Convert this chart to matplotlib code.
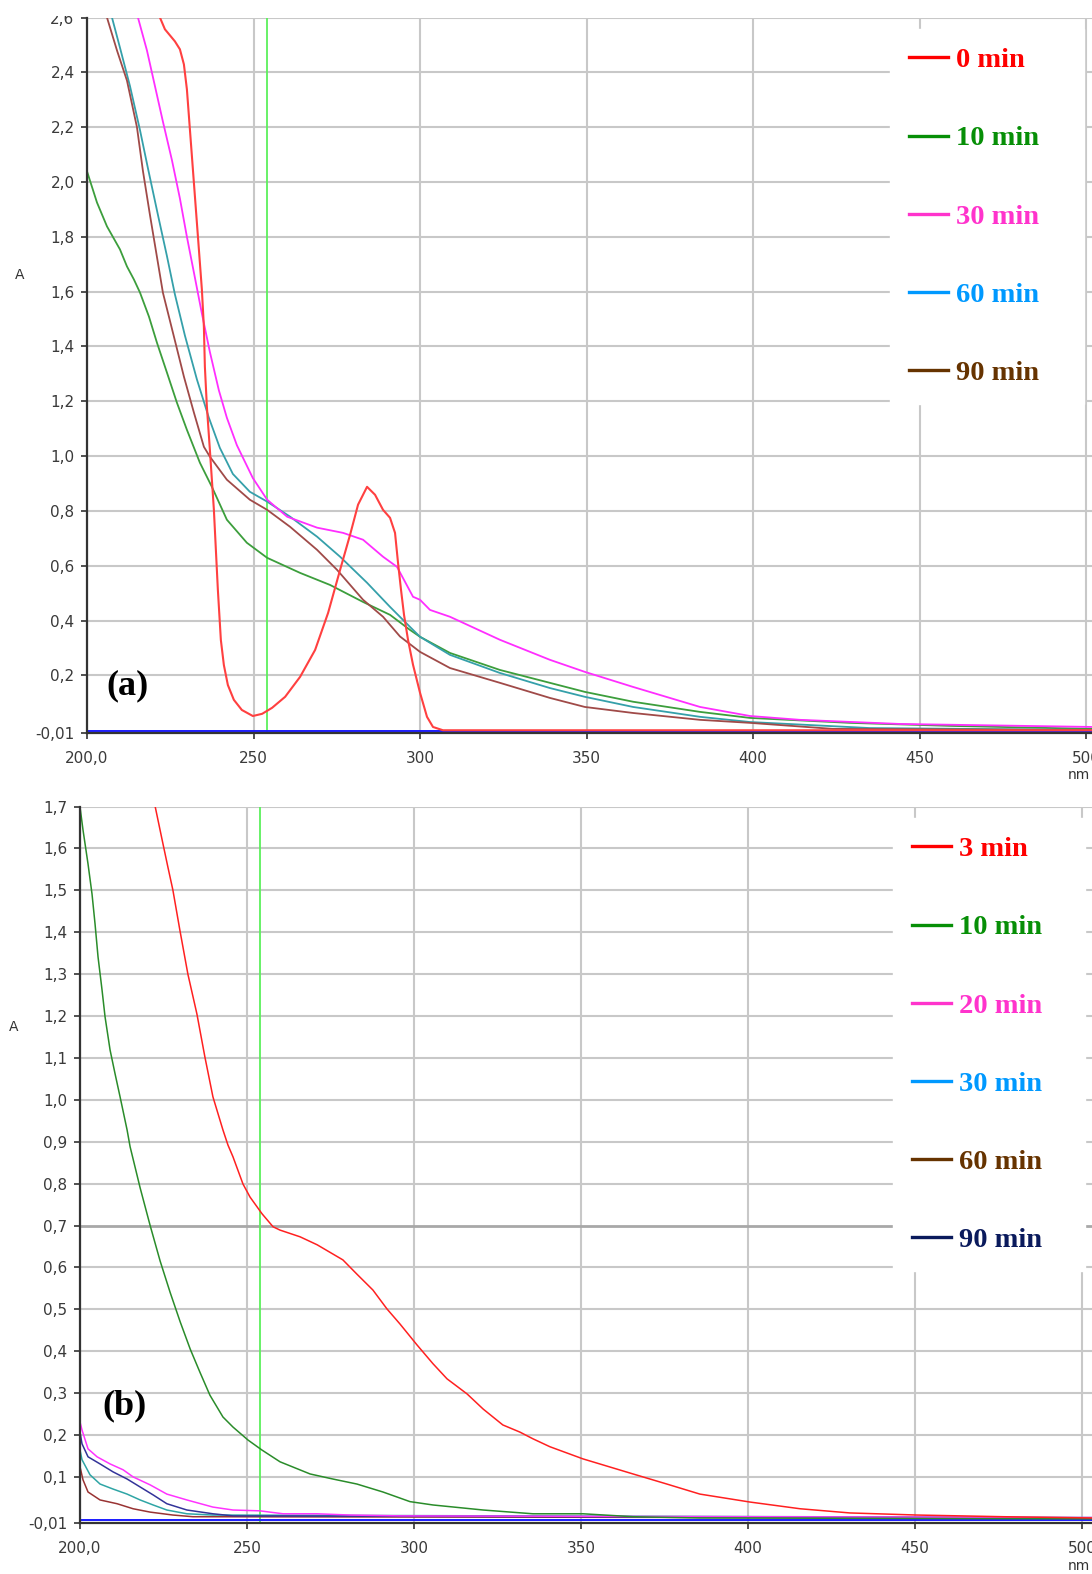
import matplotlib
matplotlib.use("Agg")
import matplotlib.pyplot as plt
from matplotlib.lines import Line2D
from matplotlib.patches import Rectangle

# ---- panel (a) data: wavelength (nm) / absorbance ----
wl_a0 = [220.0, 221.9, 223.4, 226.4, 227.9, 229.1, 230.0, 230.9, 231.8, 232.7, 233.6, 234.5, 235.1, 235.4, 236.0,
         236.9, 238.1, 239.3, 240.2, 241.1, 242.3, 244.1, 246.5, 249.8, 252.6, 255.6, 259.5, 264.0, 268.5, 272.4,
         276.0, 279.0, 281.4, 284.1, 286.5, 288.9, 291.0, 292.5, 293.4, 294.3, 295.2, 296.4, 297.9, 300.0, 302.1,
         303.9, 306.9, 350.0, 400.0, 450.0, 502.0]
ab_a0 = [2.70, 2.600, 2.557, 2.513, 2.484, 2.429, 2.338, 2.192, 2.046, 1.900, 1.754, 1.607, 1.472, 1.326, 1.180,
         1.023, 0.805, 0.512, 0.329, 0.238, 0.165, 0.111, 0.074, 0.052, 0.060, 0.082, 0.122, 0.195, 0.293, 0.428,
         0.585, 0.713, 0.823, 0.888, 0.859, 0.804, 0.775, 0.720, 0.611, 0.512, 0.421, 0.330, 0.239, 0.137, 0.049,
         0.012, 0.0, 0.0, 0.0, 0.0, 0.0]

wl_a10 = [200.0, 203.0, 206.0, 209.9, 212.0, 214.1, 215.9, 218.6, 221.0, 224.0, 227.0, 230.0, 233.9, 237.5, 242.0,
          248.0, 254.1, 264.0, 273.0, 282.9, 291.0, 297.0, 300.0, 309.0, 324.0, 339.0, 349.5, 364.0, 384.1, 399.1,
          429.1, 459.2, 502.0]
ab_a10 = [2.039, 1.925, 1.838, 1.754, 1.692, 1.644, 1.597, 1.509, 1.414, 1.305, 1.195, 1.096, 0.976, 0.888, 0.768,
          0.684, 0.629, 0.574, 0.530, 0.468, 0.421, 0.366, 0.341, 0.282, 0.220, 0.173, 0.140, 0.104, 0.067, 0.045,
          0.027, 0.016, 0.005]

wl_a30 = [213.0, 215.3, 218.0, 220.4, 222.8, 225.5, 227.9, 230.0, 232.1, 234.5, 236.9, 239.6, 242.0, 245.0, 249.8,
          254.1, 260.1, 269.1, 276.9, 282.9, 288.9, 293.1, 297.9, 300.0, 303.0, 309.0, 324.0, 339.0, 349.5, 364.0,
          384.1, 399.1, 414.1, 444.1, 502.0]
ab_a30 = [2.69, 2.600, 2.480, 2.350, 2.220, 2.080, 1.940, 1.800, 1.670, 1.520, 1.380, 1.240, 1.140, 1.040, 0.920,
          0.841, 0.779, 0.739, 0.720, 0.695, 0.633, 0.596, 0.487, 0.476, 0.439, 0.414, 0.330, 0.257, 0.213, 0.158,
          0.085, 0.052, 0.038, 0.023, 0.012]

wl_a60 = [205.5, 207.5, 209.9, 212.9, 215.9, 218.3, 221.3, 224.0, 226.4, 229.4, 233.0, 236.6, 239.9, 243.8, 248.9,
          254.1, 261.0, 269.1, 276.0, 284.1, 291.0, 297.0, 300.0, 309.0, 324.0, 339.0, 349.5, 364.0, 384.1, 399.1,
          435.1, 502.0]
ab_a60 = [2.70, 2.600, 2.490, 2.350, 2.190, 2.050, 1.880, 1.730, 1.590, 1.440, 1.280, 1.140, 1.030, 0.935, 0.870,
          0.834, 0.779, 0.706, 0.633, 0.538, 0.450, 0.377, 0.341, 0.275, 0.209, 0.154, 0.122, 0.085, 0.049, 0.030,
          0.008, 0.001]

wl_a90 = [204.0, 206.0, 209.0, 212.0, 215.0, 216.8, 218.9, 221.0, 222.8, 226.1, 229.1, 232.1, 235.1, 236.9, 242.0,
          248.9, 254.1, 261.0, 269.1, 275.1, 282.9, 288.9, 294.0, 300.0, 309.0, 324.0, 339.0, 349.5, 364.0, 384.1,
          399.1, 424.0, 502.0]
ab_a90 = [2.69, 2.600, 2.480, 2.370, 2.200, 2.040, 1.880, 1.727, 1.596, 1.436, 1.290, 1.159, 1.034, 0.998, 0.914,
          0.841, 0.804, 0.742, 0.658, 0.585, 0.476, 0.414, 0.342, 0.286, 0.227, 0.173, 0.118, 0.085, 0.063, 0.038,
          0.027, 0.005, 0.001]

# ---- panel (b) data ----
wl_b3 = [221.9, 224.6, 226.3, 227.8, 229.9, 232.3, 235.0, 237.4, 239.8, 242.8, 244.3, 245.8, 248.8, 250.9, 254.5,
         257.8, 259.9, 265.9, 271.0, 278.7, 282.9, 287.7, 291.9, 295.8, 300.9, 305.7, 309.9, 315.9, 320.7, 326.6,
         331.7, 335.6, 340.7, 350.6, 365.6, 375.7, 385.6, 400.6, 415.6, 430.5, 450.6, 476.3, 503.0]
ab_b3 = [1.723, 1.620, 1.556, 1.501, 1.405, 1.300, 1.205, 1.102, 1.007, 0.928, 0.892, 0.864, 0.799, 0.768, 0.728,
         0.697, 0.689, 0.673, 0.654, 0.618, 0.584, 0.546, 0.501, 0.465, 0.415, 0.370, 0.334, 0.298, 0.262, 0.224,
         0.207, 0.191, 0.172, 0.143, 0.107, 0.083, 0.059, 0.040, 0.024, 0.014, 0.009, 0.005, 0.002]

wl_b10 = [200.0, 200.9, 202.4, 203.6, 204.5, 205.4, 206.6, 207.5, 209.0, 210.5, 212.0, 214.1, 215.0, 218.0, 221.0,
          224.0, 227.0, 230.0, 233.0, 235.9, 238.9, 242.8, 245.8, 250.3, 254.5, 259.9, 268.9, 275.7, 282.9, 290.7,
          298.8, 305.7, 320.7, 335.6, 350.6, 365.6, 385.6, 503.0]
ab_b10 = [1.699, 1.644, 1.563, 1.491, 1.420, 1.341, 1.262, 1.198, 1.119, 1.062, 1.007, 0.928, 0.888, 0.790, 0.700,
          0.615, 0.540, 0.470, 0.405, 0.350, 0.295, 0.243, 0.219, 0.188, 0.164, 0.136, 0.107, 0.095, 0.083, 0.064,
          0.041, 0.033, 0.021, 0.012, 0.012, 0.005, 0.002, 0.0]

wl_b20 = [200.0, 200.6, 202.4, 205.1, 209.0, 212.9, 215.9, 221.0, 226.0, 232.0, 239.8, 245.8, 253.9, 260.8, 271.0,
          280.8, 295.8, 503.0]
ab_b20 = [0.231, 0.212, 0.167, 0.148, 0.131, 0.117, 0.100, 0.081, 0.059, 0.045, 0.028, 0.021, 0.019, 0.012, 0.012,
          0.009, 0.007, 0.003]

wl_b30 = [200.0, 200.6, 203.0, 206.0, 209.9, 214.1, 218.0, 221.9, 226.0, 232.0, 239.8, 503.0]
ab_b30 = [0.164, 0.141, 0.105, 0.083, 0.071, 0.059, 0.045, 0.033, 0.021, 0.012, 0.009, 0.003]

wl_b60 = [200.0, 200.9, 202.4, 206.0, 211.1, 215.9, 221.0, 227.8, 233.8, 503.0]
ab_b60 = [0.124, 0.093, 0.064, 0.045, 0.036, 0.024, 0.016, 0.009, 0.005, 0.002]

wl_b90 = [200.0, 200.6, 202.4, 206.0, 209.9, 214.1, 218.0, 221.9, 226.0, 232.0, 239.8, 245.8, 503.0]
ab_b90 = [0.207, 0.179, 0.148, 0.131, 0.112, 0.095, 0.076, 0.057, 0.036, 0.021, 0.012, 0.007, 0.002]

base_wl = [200.0, 503.0]
base_ab = [-0.004, -0.004]
marker_nm = 254.0

yticks_a = [-0.01, 0.2, 0.4, 0.6, 0.8, 1.0, 1.2, 1.4, 1.6, 1.8, 2.0, 2.2, 2.4, 2.6]
ylabels_a = ["-0,01", "0,2", "0,4", "0,6", "0,8", "1,0", "1,2", "1,4", "1,6", "1,8", "2,0", "2,2", "2,4", "2,6"]
yticks_b = [-0.01, 0.1, 0.2, 0.3, 0.4, 0.5, 0.6, 0.7, 0.8, 0.9, 1.0, 1.1, 1.2, 1.3, 1.4, 1.5, 1.6, 1.7]
ylabels_b = ["-0,01", "0,1", "0,2", "0,3", "0,4", "0,5", "0,6", "0,7", "0,8", "0,9", "1,0", "1,1", "1,2", "1,3",
             "1,4", "1,5", "1,6", "1,7"]
xticks = [200, 250, 300, 350, 400, 450, 500]
xlabels = ["200,0", "250", "300", "350", "400", "450", "500"]

leg_a = ["0 min", "10 min", "30 min", "60 min", "90 min"]
leg_a_col = ["#ff0000", "#078f07", "#ff33cc", "#0099ff", "#663300"]
leg_b = ["3 min", "10 min", "20 min", "30 min", "60 min", "90 min"]
leg_b_col = ["#ff0000", "#078f07", "#ff33cc", "#0099ff", "#663300", "#0a1a5c"]

W, H = 1092, 1574
fig = plt.figure(figsize=(W / 100, H / 100), dpi=100)
fig.patch.set_facecolor("white")


def px(x0, y0, x1, y1):
    # pixel box -> figure fraction rect
    return [x0 / W, 1 - y1 / H, (x1 - x0) / W, (y1 - y0) / H]


def style_axes(ax, yt, yl, xmax, ymax):
    ax.set_xlim(200, xmax)
    ax.set_ylim(-0.01, ymax)
    ax.set_xticks(xticks)
    ax.set_xticklabels(xlabels)
    ax.set_yticks(yt)
    ax.set_yticklabels(yl)
    ax.grid(True, color="#c8c8c8", lw=1.5)
    ax.set_axisbelow(True)
    for s in ["top", "right"]:
        ax.spines[s].set_visible(False)
    for s in ["left", "bottom"]:
        ax.spines[s].set_color("#333333")
        ax.spines[s].set_linewidth(1.6)
        ax.spines[s].set_zorder(5)
    ax.tick_params(axis="both", direction="out", length=4, width=1.2, color="#333333",
                   labelsize=11, labelcolor="#3a3a3a")
    ax.tick_params(axis="x", pad=9)
    ax.tick_params(axis="y", pad=5)


def add_legend(ax, labels, cols, anchor):
    handles = [Line2D([], [], color=c, lw=2.4) for c in cols]
    leg = ax.legend(handles, labels, loc="upper left", bbox_to_anchor=anchor,
                    bbox_transform=fig.transFigure, mode="expand", borderaxespad=0,
                    prop={"family": "Liberation Serif", "weight": "bold", "size": 20.5},
                    frameon=True, fancybox=False, edgecolor="white", facecolor="white",
                    framealpha=1, handlelength=1.37, handletextpad=0.3, labelspacing=1.83,
                    borderpad=0.65)
    for t, c in zip(leg.get_texts(), cols):
        t.set_color(c)
    leg.set_zorder(6)
    return leg


# ---------------- panel (a) ----------------
ax1 = fig.add_axes(px(87, 17.5, 1092, 733))
style_axes(ax1, yticks_a, ylabels_a, 501.8, 2.6)
ax1.axvline(marker_nm, color="#5cf05c", lw=1.3, zorder=2)
ax1.plot(base_wl, base_ab, color="#1a1aff", lw=1.4, zorder=3)
ax1.plot(wl_a10, ab_a10, color="#3c9e3c", lw=1.3, zorder=3)
ax1.plot(wl_a60, ab_a60, color="#35a0aa", lw=1.3, zorder=3)
ax1.plot(wl_a90, ab_a90, color="#a04a48", lw=1.3, zorder=3)
ax1.plot(wl_a30, ab_a30, color="#ff2eff", lw=1.3, zorder=3)
ax1.plot(wl_a0, ab_a0, color="#ff4040", lw=1.5, zorder=4)
add_legend(ax1, leg_a, leg_a_col, (890 / W, 1 - 420 / H, 194 / W, 391 / H))

# ---------------- panel (b) ----------------
ax2 = fig.add_axes(px(80, 806.5, 1092, 1523))
style_axes(ax2, yticks_b, ylabels_b, 503.0, 1.7)
ax2.get_ygridlines()[7].set_color("#a8a8a8")
ax2.get_ygridlines()[7].set_linewidth(2.0)
ax2.axvline(marker_nm, color="#5cf05c", lw=1.3, zorder=2)
ax2.plot(base_wl, base_ab, color="#1a1aff", lw=1.4, zorder=3)
ax2.plot(wl_b60, ab_b60, color="#993333", lw=1.1, zorder=3)
ax2.plot(wl_b30, ab_b30, color="#2fa5a5", lw=1.1, zorder=3)
ax2.plot(wl_b90, ab_b90, color="#333399", lw=1.1, zorder=3)
ax2.plot(wl_b20, ab_b20, color="#ff33ff", lw=1.1, zorder=3)
ax2.plot(wl_b10, ab_b10, color="#2a8c2a", lw=1.1, zorder=4)
ax2.plot(wl_b3, ab_b3, color="#ff2020", lw=1.1, zorder=4)
add_legend(ax2, leg_b, leg_b_col, (893 / W, 1 - 1290 / H, 192 / W, 472 / H))

# axis captions
fig.text(20 / W, 1 - 275 / H, "A", fontsize=10, color="#333333", ha="center", va="center")
fig.text(14 / W, 1 - 1027 / H, "A", fontsize=10, color="#333333", ha="center", va="center")
fig.text(1090 / W, 1 - 775 / H, "nm", fontsize=10, color="#333333", ha="right", va="center")
fig.text(1090 / W, 1 - 1566 / H, "nm", fontsize=10, color="#333333", ha="right", va="center")

# panel letters
fig.text(128 / W, 1 - 686 / H, "(a)", family="Liberation Serif", weight="bold", fontsize=26,
         ha="center", va="center")
fig.text(125 / W, 1 - 1406 / H, "(b)", family="Liberation Serif", weight="bold", fontsize=26,
         ha="center", va="center")

# cropped screenshot edges
fig.add_artist(Rectangle((0, 1 - 16 / H), 86 / W, 16 / H, transform=fig.transFigure,
                         facecolor="white", edgecolor="none", zorder=20))
fig.add_artist(Rectangle((0, 1 - 801 / H), 78 / W, 12 / H, transform=fig.transFigure,
                         facecolor="white", edgecolor="none", zorder=20))

fig.savefig("out.png", dpi=100)
